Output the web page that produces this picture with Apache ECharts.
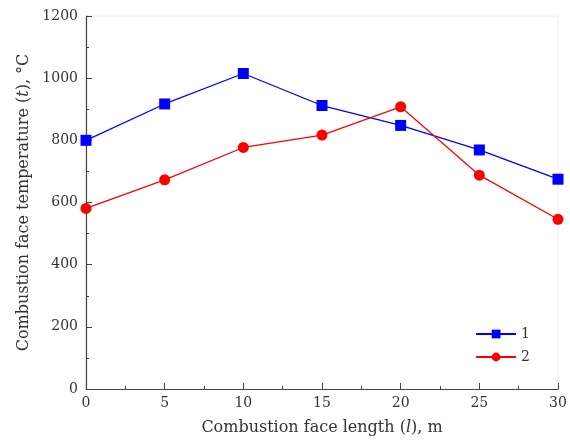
<!DOCTYPE html>
<html>
<head>
<meta charset="utf-8">
<script src="https://cdn.jsdelivr.net/npm/echarts@6/dist/echarts.min.js"></script>
<style>
html,body{margin:0;padding:0;background:#fff;}
#chart{width:570px;height:441px;}
</style>
</head>
<body>
<div id="chart"></div>
<script>
// Combustion face length, m
const lengths = [0, 5, 10, 15, 20, 25, 30];
// Combustion face temperature, °C
const series1 = [800, 917, 1015, 912, 848, 769, 675];
const series2 = [581, 673, 777, 817, 908, 688, 546];
const seriesNames = ['1', '2'];

const font = 'DejaVu Serif, serif';
const textColor = '#333';
const axisColor = '#444';

function pairs(xs, ys) { return xs.map((x, i) => [x, ys[i]]); }

const titleStyle = {
  fontFamily: font, fontSize: 16, color: textColor,
  rich: { i: { fontStyle: 'italic', fontFamily: font, fontSize: 16, color: textColor } }
};

const chart = echarts.init(document.getElementById('chart'));
chart.setOption({
  animation: false,
  textStyle: { fontFamily: font },
  grid: { left: 86, right: 12, top: 16, bottom: 52, show: true, borderColor: '#eee', borderWidth: 1 },
  legend: {
    orient: 'vertical',
    right: 35, top: 322,
    itemWidth: 40, itemHeight: 11, itemGap: 9,
    textStyle: { fontFamily: font, fontSize: 14, color: textColor },
    data: seriesNames
  },
  xAxis: {
    type: 'value', min: 0, max: 30, interval: 5,
    name: 'Combustion face length ({i|l}), m',
    nameLocation: 'middle', nameGap: 31,
    nameTextStyle: titleStyle,
    axisLine: { lineStyle: { color: axisColor, width: 1.2 } },
    axisTick: { inside: true, length: 6, lineStyle: { color: axisColor } },
    minorTick: { show: true, splitNumber: 2, length: 3, lineStyle: { color: axisColor } },
    axisLabel: { fontFamily: font, fontSize: 14, color: textColor, margin: 7 },
    splitLine: { show: false }
  },
  yAxis: {
    type: 'value', min: 0, max: 1200, interval: 200,
    name: 'Combustion face temperature ({i|t}), °C',
    nameLocation: 'middle', nameGap: 52,
    nameTextStyle: titleStyle,
    axisLine: { show: true, lineStyle: { color: axisColor, width: 1.2 } },
    axisTick: { show: true, inside: true, length: 6, lineStyle: { color: axisColor } },
    minorTick: { show: true, splitNumber: 2, length: 3, lineStyle: { color: axisColor } },
    axisLabel: { fontFamily: font, fontSize: 14, color: textColor, margin: 8, formatter: v => String(v) },
    splitLine: { show: false }
  },
  series: [
    {
      name: seriesNames[0], type: 'line', data: pairs(lengths, series1),
      symbol: 'rect', symbolSize: 11,
      lineStyle: { color: '#0000ff', width: 1.3 },
      itemStyle: { color: '#0000ff' }
    },
    {
      name: seriesNames[1], type: 'line', data: pairs(lengths, series2),
      symbol: 'circle', symbolSize: 11,
      lineStyle: { color: '#ff0000', width: 1.3 },
      itemStyle: { color: '#ff0000' }
    }
  ]
});
</script>
</body>
</html>
